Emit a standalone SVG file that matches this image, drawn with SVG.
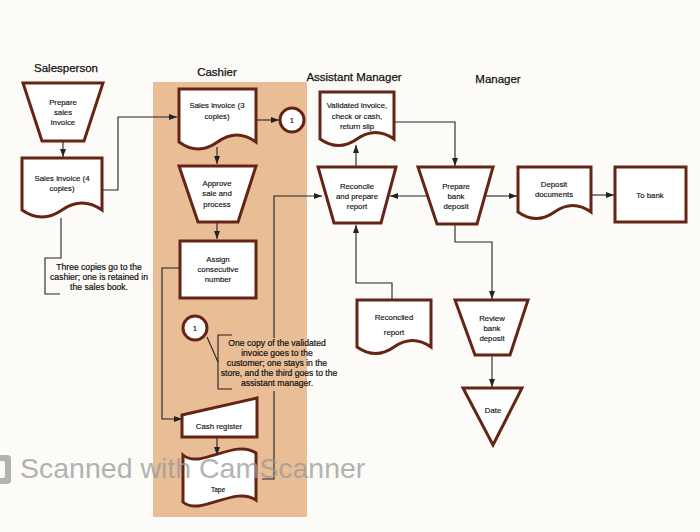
<svg xmlns="http://www.w3.org/2000/svg" width="700" height="532" viewBox="0 0 700 532">
<style>
.lane{font-family:"Liberation Sans",Arial,sans-serif;font-size:11.5px;fill:#111;stroke:#111;stroke-width:0.25;text-anchor:middle}
.t{font-family:"Liberation Sans",Arial,sans-serif;font-size:7.8px;fill:#111;stroke:#111;stroke-width:0.15;text-anchor:middle}
.n{font-family:"Liberation Sans",Arial,sans-serif;font-size:8.6px;fill:#111;stroke:#111;stroke-width:0.2;text-anchor:middle}
.node{fill:#fff;stroke:#652515;stroke-width:3;stroke-linejoin:miter}
.c{fill:none;stroke:#222;stroke-width:1.1}
.a{marker-end:url(#ah)}
</style>
<defs>
<marker id="ah" markerUnits="userSpaceOnUse" markerWidth="8" markerHeight="6" refX="8" refY="3" orient="auto">
<path d="M0,0 L8,3 L0,6 z" fill="#222"/>
</marker>
</defs>
<rect x="0" y="0" width="700" height="532" fill="#fdfbf8"/>
<rect x="153" y="82" width="154" height="435" fill="#e9bd96"/>

<g id="lanes">
<text class="lane" x="66" y="72">Salesperson</text>
<text class="lane" x="217" y="76">Cashier</text>
<text class="lane" x="354" y="81">Assistant Manager</text>
<text class="lane" x="498" y="83">Manager</text>
</g>

<g id="connectors">
<path class="c a" d="M63,142 V157"/>
<path class="c a" d="M102,190 H118 V117 H177"/>
<path class="c" d="M61,218 V258 H45 V294 H60"/>
<path class="c a" d="M256,120 H279"/>
<path class="c a" d="M217,147 V164"/>
<path class="c a" d="M217,223 V239"/>
<path class="c a" d="M179,268 H162 V419 H182"/>
<path class="c a" d="M217,437 V455"/>
<path class="c" d="M262,479 H274 V391"/>
<path class="c a" d="M274,338 V196 H322"/>
<path class="c" d="M207,337 L218,362"/>
<path class="c" d="M232,335 H218 V389 H232"/>
<path class="c a" d="M356,166 V145"/>
<path class="c a" d="M394,122 H455 V166"/>
<path class="c a" d="M428,196 H390"/>
<path class="c a" d="M392,299 V283 H356 V225"/>
<path class="c a" d="M486,196 H517"/>
<path class="c a" d="M591,195 H614"/>
<path class="c a" d="M455,225 V242 H492 V299"/>
<path class="c a" d="M492,356 V387"/>
</g>

<g id="prepare-sales-invoice">
<polygon class="node" points="23,83 103,83 84,141 42,141"/>
<text class="t" x="63" y="105">Prepare</text>
<text class="t" x="63" y="115">sales</text>
<text class="t" x="63" y="125">invoice</text>
</g>
<g id="sales-invoice-4">
<path class="node" d="M22,158 H102 V210 Q82,196 62,210 T22,210 Z"/>
<text class="t" x="62" y="181">Sales invoice (4</text>
<text class="t" x="62" y="191">copies)</text>
</g>
<g id="note-three-copies">
<text class="n" x="99" y="270">Three copies go to the</text>
<text class="n" x="99" y="280">cashier; one is retained in</text>
<text class="n" x="99" y="290">the sales book.</text>
</g>

<g id="sales-invoice-3">
<path class="node" d="M179,89 H256 V142 Q237,128 217.5,142 T179,142 Z"/>
<text class="t" x="217" y="108">Sales invoice (3</text>
<text class="t" x="217" y="119">copies)</text>
</g>
<g id="connector-1-top">
<circle class="node" cx="292" cy="120" r="12"/>
<text class="t" x="292" y="123">1</text>
</g>
<g id="approve-sale">
<polygon class="node" points="179,166 256,166 238,222 198,222"/>
<text class="t" x="217" y="186">Approve</text>
<text class="t" x="217" y="196">sale and</text>
<text class="t" x="217" y="207">process</text>
</g>
<g id="assign-number">
<rect class="node" x="180" y="241" width="76" height="57"/>
<text class="t" x="218" y="262">Assign</text>
<text class="t" x="218" y="272">consecutive</text>
<text class="t" x="218" y="282">number</text>
</g>
<g id="connector-1-bottom">
<circle class="node" cx="195" cy="328" r="12"/>
<text class="t" x="195" y="331">1</text>
</g>
<g id="note-validated">
<text class="n" x="277" y="346">One copy of the validated</text>
<text class="n" x="277" y="356">invoice goes to the</text>
<text class="n" x="277" y="366">customer; one stays in the</text>
<text class="n" x="279" y="376">store, and the third goes to the</text>
<text class="n" x="277" y="386">assistant manager.</text>
</g>
<g id="cash-register">
<polygon class="node" points="182,415 257,398 257,437 182,437"/>
<text class="t" x="219" y="429">Cash register</text>
</g>
<g id="tape">
<path class="node" d="M183,455 C200,470 235,438 256,453 V500 C235,485 200,517 183,502 Z"/>
<text class="t" x="218" y="492" style="font-size:6.5px">Tape</text>
</g>

<g id="validated-invoice">
<path class="node" d="M320,92 H394 V139 Q375.5,126 357,139 T320,139 Z"/>
<text class="t" x="357" y="108">Validated invoice,</text>
<text class="t" x="357" y="119">check or cash,</text>
<text class="t" x="357" y="129">return slip</text>
</g>
<g id="reconcile">
<polygon class="node" points="318,167 396,167 381,223 334,223"/>
<text class="t" x="357" y="189">Reconcile</text>
<text class="t" x="357" y="199">and prepare</text>
<text class="t" x="357" y="209">report</text>
</g>
<g id="reconciled-report">
<path class="node" d="M357,300 H431 V347 Q412.5,334 394,347 T357,347 Z"/>
<text class="t" x="394" y="320">Reconciled</text>
<text class="t" x="394" y="335">report</text>
</g>

<g id="prepare-bank-deposit">
<polygon class="node" points="418,167 493,167 477,224 437,224"/>
<text class="t" x="456" y="189">Prepare</text>
<text class="t" x="456" y="199">bank</text>
<text class="t" x="456" y="209">deposit</text>
</g>
<g id="deposit-documents">
<path class="node" d="M518,167 H591 V212 Q572.75,199 554.5,212 T518,212 Z"/>
<text class="t" x="554" y="187">Deposit</text>
<text class="t" x="554" y="197">documents</text>
</g>
<g id="to-bank">
<rect class="node" x="615" y="167" width="71" height="55"/>
<text class="t" x="650" y="198">To bank</text>
</g>
<g id="review-bank-deposit">
<polygon class="node" points="455,300 528,300 510,355 475,355"/>
<text class="t" x="492" y="321">Review</text>
<text class="t" x="492" y="331">bank</text>
<text class="t" x="492" y="341">deposit</text>
</g>
<g id="date">
<polygon class="node" points="463,388 522,388 493,445"/>
<text class="t" x="493" y="413">Date</text>
</g>

<g id="watermark" opacity="0.75">
<rect x="-9" y="455" width="20" height="29" rx="4" fill="#9a9a9a"/>
<rect x="-3" y="461" width="8" height="17" rx="2" fill="#fdfbf8"/>
<text x="20" y="478" style="font-family:'Liberation Sans',Arial,sans-serif;font-size:28.5px;fill:#9a9a9a">Scanned with CamScanner</text>
</g>
</svg>
